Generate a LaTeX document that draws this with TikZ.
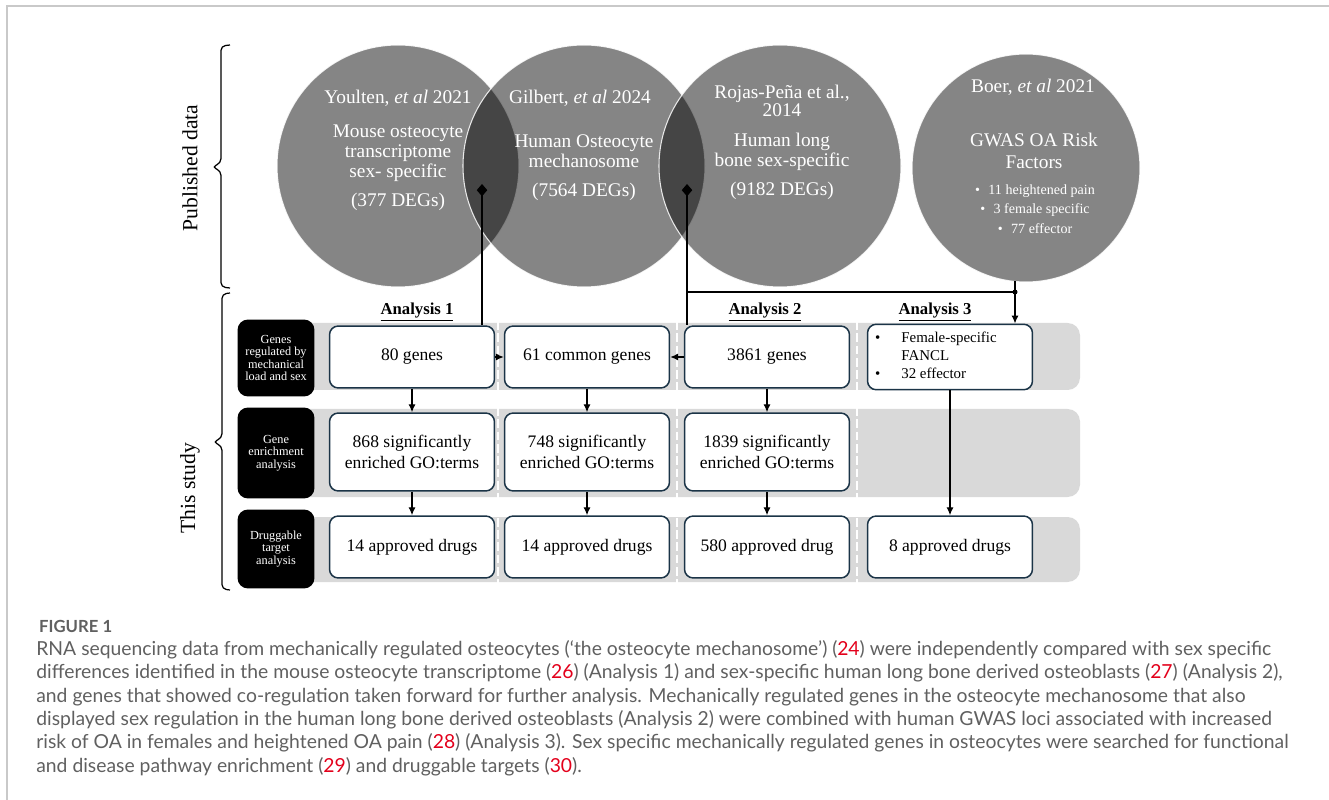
\documentclass[tikz,border=0pt]{standalone}
\usepackage{fontspec}
\setmainfont{Liberation Serif}
\newfontfamily\capfont{Lato}
\usetikzlibrary{calc, arrows.meta}

\definecolor{boxedge}{HTML}{1B3447}
\definecolor{bandgray}{HTML}{D9D9D9}
\definecolor{capgray}{HTML}{606060}
\definecolor{refred}{HTML}{E3001B}
\definecolor{framegray}{HTML}{C9C9C9}

\newcommand{\refno}[1]{\textcolor{refred}{#1}}

\tikzset{
	venn/.style={fill=black, fill opacity=0.48, draw=white, draw opacity=0.85, line width=0.6pt},
	venntext/.style={text=white, align=center, font=\fontsize{11}{11.4}\selectfont},
	rowband/.style={fill=bandgray, rounded corners=7pt},
	rowlabel/.style={fill=black, rounded corners=6pt, text=white, align=center, inner sep=1pt, minimum width=1.54cm, font=\fontsize{7}{7.2}\selectfont},
	result/.style={draw=boxedge, fill=white, line width=0.85pt, rounded corners=5pt, align=center, minimum width=3.3cm, font=\fontsize{10}{11.5}\selectfont},
	flow/.style={-{Latex[length=4.5pt, width=4pt]}, line width=0.7pt},
	heading/.style={font=\bfseries\fontsize{9.5}{11}\selectfont},
	sidelabel/.style={rotate=90, font=\fontsize{12.3}{14}\selectfont},
	bracket/.style={line width=0.7pt, rounded corners=2.5pt}
}

\begin{document}
\begin{tikzpicture}[x=0.02cm, y=-0.02cm]
	\useasboundingbox (0,0) rectangle (1329,800);
	\def\rad{121};
	
	% frame
	\draw[framegray, line width=0.6pt] (7,800) -- (7,6) -- (1329,6);
	
	\coordinate (youlten) at (398,166);
	\coordinate (gilbert) at (584,166);
	\coordinate (rojas) at (780,166);
	\coordinate (boer) at (1026,168);
	\coordinate (ov12) at (482,184);
	\coordinate (ov23) at (687,184);
	\coordinate (boerfoot) at (1015,281);
	\coordinate (split) at (687,292);
	\coordinate (join) at (1015,292);
	
	% published data
	\begin{scope}
		\filldraw[venn] (youlten) circle (\rad);
		\filldraw[venn] (gilbert) circle (\rad);
		\filldraw[venn] (rojas) circle (\rad);
		\filldraw[venn] (boer) circle (114);
	\end{scope}
	
	\node[venntext] (youltenA) at (398,98) {Youlten, \textit{et al} 2021};
	\node[venntext] (youltenB) at (398,168) {Mouse osteocyte\\transcriptome\\sex- specific\\[5pt](377 DEGs)};
	\node[venntext] (gilbertA) at (580,98) {Gilbert, \textit{et al} 2024};
	\node[venntext] (gilbertB) at (584,168) {Human Osteocyte\\mechanosome\\[5pt](7564 DEGs)};
	\node[venntext, font=\fontsize{11}{9.8}\selectfont] (rojasA) at (782,101) {Rojas-Peña et al.,\\2014};
	\node[venntext] (rojasB) at (782,166) {Human long\\bone sex-specific\\[5pt](9182 DEGs)};
	\node[venntext] (boerA) at (1033,87) {Boer, \textit{et al} 2021};
	\node[venntext, font=\fontsize{11}{12.5}\selectfont] (boerB) at (1034,151) {GWAS OA Risk\\Factors};
	\node[venntext, font=\fontsize{8}{11.2}\selectfont] (boerC) at (1035,209) {\textbullet\hspace{0.6em}11 heightened pain\\\textbullet\hspace{0.6em}3 female specific\\\textbullet\hspace{0.6em}77 effector};
	
	% side brackets
	\draw[bracket] (230,45) -- (221,46) -- (221,163) -- (212,167) -- (221,171) -- (221,287) -- (230,288);
	\draw[bracket] (230,293) -- (222,294) -- (222,438) -- (213,442) -- (222,446) -- (222,589) -- (230,590);
	\node[sidelabel] (published) at (190,168) {Published data};
	\node[sidelabel] (thisstudy) at (190,488) {This study};
	
	% row bands
	\begin{scope}
		\fill[rowband] (290,323) rectangle (1080,390);
		\fill[rowband] (290,409) rectangle (1080,497);
		\fill[rowband] (290,517) rectangle (1080,582);
		\foreach \x in {498,677,857}
			\draw[white, line width=1.2pt, dash pattern=on 5pt off 2pt] (\x,321) -- (\x,584);
	\end{scope}
	
	\node[rowlabel, minimum height=1.54cm] (rowGenes) at (276,358) {Genes\\regulated by\\mechanical\\load and sex};
	\node[rowlabel, minimum height=1.82cm] (rowEnrich) at (276,453) {Gene\\enrichment\\analysis};
	\node[rowlabel, minimum height=1.58cm] (rowDrugs) at (276,549) {Druggable\\target\\analysis};
	
	\node[heading] (headA) at (417,312) {\underline{Analysis 1}};
	\node[heading] (headB) at (765,312) {\underline{Analysis 2}};
	\node[heading] (headC) at (935,312) {\underline{Analysis 3}};
	
	% this study
	\node[result, minimum height=1.24cm] (genesA) at (412,357) {80 genes};
	\node[result, minimum height=1.24cm] (genesAB) at (587,357) {61 common genes};
	\node[result, minimum height=1.24cm] (genesB) at (767,357) {3861 genes};
	\node[result, minimum height=1.24cm, font=\fontsize{8.5}{10.2}\selectfont] (genesC) at (950,357) {\begin{tabular}{@{}l@{\hspace{1.4em}}l@{\hspace{16pt}}}\textbullet & Female-specific\\ & FANCL\\ \textbullet & 32 effector\end{tabular}};
	
	\node[result, minimum height=1.56cm] (goA) at (412,452) {868 significantly\\enriched GO:terms};
	\node[result, minimum height=1.56cm] (goAB) at (587,452) {748 significantly\\enriched GO:terms};
	\node[result, minimum height=1.56cm] (goB) at (767,452) {1839 significantly\\enriched GO:terms};
	
	\node[result, minimum height=1.24cm] (drugsA) at (412,547) {14 approved drugs};
	\node[result, minimum height=1.24cm] (drugsAB) at (587,547) {14 approved drugs};
	\node[result, minimum height=1.24cm] (drugsB) at (767,547) {580 approved drug};
	\node[result, minimum height=1.24cm] (drugsC) at (950,547) {8 approved drugs};
	
	% connectors
	\begin{scope}[flow]
		\draw[{Diamond[length=7pt, width=6pt]}-] (ov12) -- (ov12 |- genesA.north);
		\draw[{Diamond[length=7pt, width=6pt]}-] (ov23) -- (ov23 |- genesB.north);
		\draw[-] (split) -- (join);
		\draw[-] (boerfoot) -- (join);
		\draw (join) -- (join |- genesC.north);
		\draw (genesA) -- (genesAB);
		\draw (genesB) -- (genesAB);
		\draw (genesA) -- (goA);
		\draw (genesAB) -- (goAB);
		\draw (genesB) -- (goB);
		\draw (goA) -- (drugsA);
		\draw (goAB) -- (drugsAB);
		\draw (goB) -- (drugsB);
		\draw (genesC) -- (drugsC);
	\end{scope}
	\fill (join) circle (2.5);
	
	% caption
	\node[anchor=west, text=capgray, font=\capfont\bfseries\fontsize{9.5}{11}\selectfont] (figlabel) at (33,626) {FIGURE 1};
	\node[anchor=north west, inner sep=0pt, align=left, text=capgray, font=\capfont\fontsize{11}{13.3}\selectfont] (caption) at (36,640) {RNA sequencing data from mechanically regulated osteocytes (‘the osteocyte mechanosome’) (\refno{24}) were independently compared with sex specific\\
		differences identified in the mouse osteocyte transcriptome (\refno{26}) (Analysis 1) and sex-specific human long bone derived osteoblasts (\refno{27}) (Analysis 2),\\
		and genes that showed co-regulation taken forward for further analysis. Mechanically regulated genes in the osteocyte mechanosome that also\\
		displayed sex regulation in the human long bone derived osteoblasts (Analysis 2) were combined with human GWAS loci associated with increased\\
		risk of OA in females and heightened OA pain (\refno{28}) (Analysis 3). Sex specific mechanically regulated genes in osteocytes were searched for functional\\
		and disease pathway enrichment (\refno{29}) and druggable targets (\refno{30}).};
\end{tikzpicture}
\end{document}
